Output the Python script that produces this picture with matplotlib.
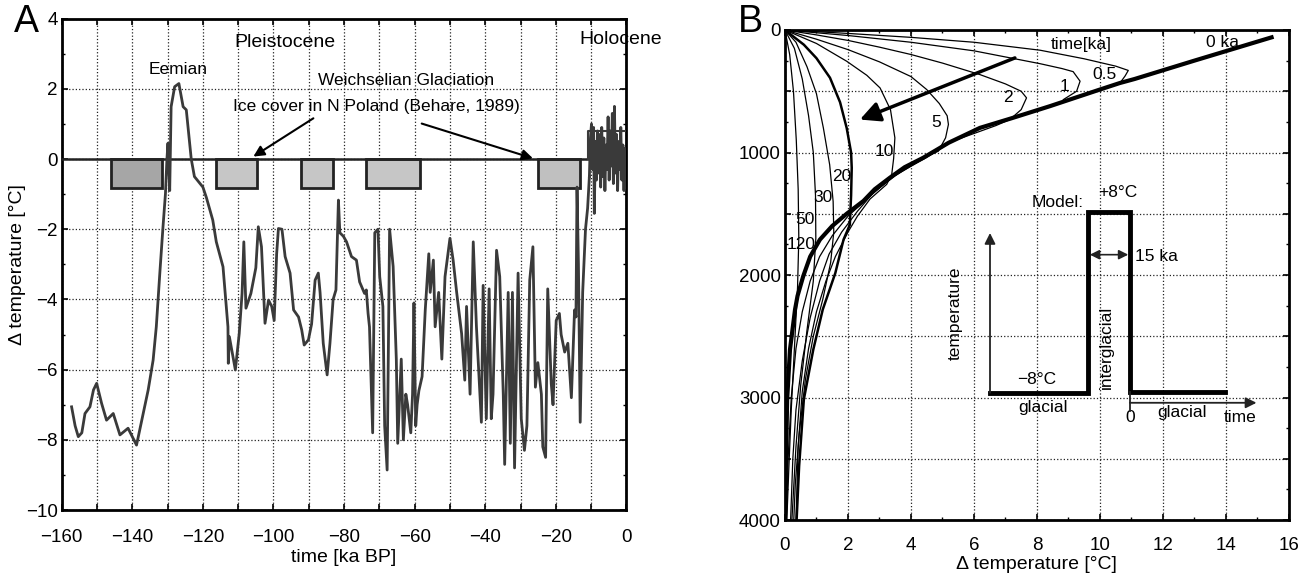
import numpy as np
import matplotlib
matplotlib.use("Agg")
import matplotlib.pyplot as plt
from matplotlib.ticker import MultipleLocator, FuncFormatter

plt.rcParams['font.family'] = ['Liberation Sans', 'DejaVu Sans']

# ---- panel A: temperature history (ka BP, deg C) ----
time_a = [-157.2, -156.2, -155.3, -154.3, -153.4, -152.0, -151.0, -150.1, -148.7, -147.3,
          -145.4, -143.5, -141.2, -138.8, -136.9, -135.5, -134.1, -133.2, -132.2, -131.3,
          -130.6, -130.2, -129.9, -129.4, -129.0, -128.0, -126.8, -125.6, -124.7, -123.3,
          -122.4, -120.0, -119.0, -117.2, -116.2, -114.3, -112.9, -112.8, -112.5, -110.8,
          -109.7, -108.9, -108.4, -107.8, -106.4, -105.0, -104.3, -103.4, -102.4, -101.4,
          -100.5, -99.8, -99.1, -98.6, -97.6, -96.7, -95.3, -94.3, -92.9, -92.0,
          -91.3, -90.1, -89.2, -88.2, -87.3, -86.8, -85.9, -84.8, -84.0, -83.1,
          -82.3, -81.6, -81.2, -80.2, -79.3, -77.9, -76.5, -75.6, -74.2, -73.7,
          -73.2, -72.8, -71.9, -71.3, -70.4, -69.9, -69.0, -68.5, -67.8, -67.1,
          -66.1, -65.2, -64.8, -63.8, -63.2, -62.5, -62.0, -61.1, -60.6, -60.2,
          -59.7, -59.3, -58.8, -57.9, -57.0, -56.0, -55.6, -54.7, -54.2, -53.2,
          -52.3, -51.4, -50.0, -49.1, -48.1, -46.7, -45.8, -45.3, -44.3, -43.4,
          -42.5, -41.1, -40.6, -39.7, -38.9, -38.3, -37.8, -36.8, -35.9, -34.9,
          -34.5, -33.5, -32.9, -32.3, -31.7, -30.7, -29.8, -28.9, -28.2, -27.4,
          -26.5, -25.8, -25.1, -24.1, -23.7, -22.9, -22.3, -21.3, -20.8, -19.9,
          -19.0, -18.5, -17.5, -16.6, -15.6, -14.7, -14.3, -14.0, -13.6, -13.1,
          -12.4, -11.6, -11.0, -10.5]
temp_a = [-7.06, -7.6, -7.91, -7.8, -7.25, -7.06, -6.58, -6.39, -6.96, -7.44,
          -7.25, -7.86, -7.67, -8.15, -7.25, -6.58, -5.73, -4.78, -3.25, -1.93,
          -0.98, -0.03, 0.45, -0.9, 1.49, 2.06, 2.15, 1.49, 1.4, 0.0,
          -0.5, -0.8, -1.1, -1.74, -2.36, -3.07, -4.78, -5.82, -5.06, -6.01,
          -4.97, -3.83, -2.36, -4.25, -3.83, -3.1, -1.93, -2.5, -4.68, -4.02,
          -4.2, -4.6, -2.7, -1.98, -2.0, -2.78, -3.25, -4.3, -4.5, -4.87,
          -5.3, -5.15, -4.7, -3.45, -3.25, -3.8, -5.25, -6.15, -5.25, -4.0,
          -3.73, -1.17, -2.1, -2.2, -2.36, -2.78, -2.88, -3.5, -3.83, -3.73,
          -4.4, -4.78, -7.8, -2.1, -2.0, -3.35, -4.2, -7.6, -8.86, -2.0,
          -3.06, -5.7, -8.1, -5.7, -8.0, -6.7, -7.0, -7.8, -6.7, -4.1,
          -7.6, -7.0, -6.6, -6.2, -4.3, -2.7, -3.8, -2.88, -4.78, -3.8,
          -5.7, -3.35, -2.26, -2.88, -3.8, -4.97, -6.3, -4.2, -6.7, -2.36,
          -4.78, -7.5, -3.6, -7.4, -3.7, -7.4, -6.7, -2.6, -3.35, -6.7,
          -8.7, -3.8, -8.1, -3.8, -8.8, -3.25, -7.4, -8.3, -7.6, -3.45,
          -2.5, -6.5, -5.8, -6.7, -8.2, -8.5, -3.7, -6.4, -7.0, -4.6,
          -4.4, -5.0, -5.5, -5.25, -6.8, -4.3, -4.5, -0.8, -3.0, -7.5,
          -3.8, -2.0, -1.4, -0.5]

# Holocene part
time_holo = [-10.5, -10.2, -9.9, -9.6, -9.3, -9.1, -8.8, -8.5, -8.2, -7.9, -7.6, -7.3,
             -7.0, -6.7, -6.4, -6.1, -5.8, -5.5, -5.2, -4.9, -4.6, -4.3, -4.0, -3.7,
             -3.4, -3.1, -2.8, -2.5, -2.2, -1.9, -1.6, -1.3, -1.0, -0.7, -0.4, -0.1]
temp_holo = [-0.5, 0.6, 1.0, -0.3, 0.9, -1.55, 0.5, -0.6, 0.8, -0.4, 0.7, -0.8,
             0.9, -0.5, 0.6, -0.9, 0.4, -0.3, 1.2, -0.6, 0.8, -0.2, 1.3, -0.7,
             1.5, -0.4, 0.7, -0.9, 0.5, -0.3, 0.9, -0.6, 0.4, -0.9, 0.3, -0.8]
holo_outline_t = [-10.8, -10.8, 0.0]
holo_outline_T = [0.0, 0.8, 0.8]

# ice cover periods in N Poland
ice_start = [-146.1, -116.4, -92.2, -73.9, -25.0]
ice_end = [-131.7, -104.8, -83.1, -58.5, -13.2]
ice_depth = -0.83
ice_colors = ['#a6a6a6', '#c6c6c6', '#c6c6c6', '#c6c6c6', '#c0c0c0']

# ---- panel B: temperature-depth profiles (deg C, m) ----
curve_labels = ['0 ka', '0.5', '1', '2', '5', '10', '20', '30', '50', '120']
prof_T = {
    '0 ka': [15.45, 13.0, 11.1, 10.63, 10.0, 8.41, 7.2, 6.19, 5.2, 4.39, 3.8, 3.33, 2.85, 2.49,
             1.96, 1.5, 1.11, 0.8, 0.58, 0.4, 0.32, 0.16, 0.07, 0.03, 0.0],
    '0.5': [0, 2, 4, 6, 8.1, 9.5, 10.5, 10.9, 10.8, 10.63],
    '1': [0, 2, 4, 6, 8.1, 8.8, 9.15, 9.37, 9.26, 8.84],
    '2': [0, 1, 2, 3, 4, 5, 6.19, 7.0, 7.5, 7.67, 7.5, 7.14, 6.7, 5.3, 4.5, 3.4, 2.6, 2.0,
          1.5, 1.1, 0.8, 0.55, 0.35, 0.2, 0.1, 0.05],
    '5': [0, 1, 2, 3, 4, 4.5, 4.9, 5.15, 5.19, 5.1, 4.87, 4.4, 3.5, 2.8, 2.3, 1.8, 1.4,
          1.1, 0.8, 0.55, 0.35, 0.25, 0.18],
    '10': [0, 1, 1.96, 2.6, 3.02, 3.35, 3.49, 3.45, 3.39, 3.23, 2.7, 2.3, 2.0, 1.6, 1.3,
           1.0, 0.75, 0.55, 0.42, 0.35],
    '20': [0, 0.6, 1.0, 1.43, 1.75, 1.96, 2.1, 2.12, 2.1, 2.06, 1.86, 1.6, 1.2, 0.9, 0.6,
           0.45, 0.37],
    '30': [0, 0.35, 0.7, 1.0, 1.22, 1.42, 1.53, 1.55, 1.45, 1.2, 0.9, 0.65, 0.45, 0.33, 0.28],
    '50': [0, 0.3, 0.55, 0.75, 0.9, 0.97, 0.98, 0.9, 0.7, 0.5, 0.35, 0.22],
    '120': [0, 0.15, 0.27, 0.36, 0.42, 0.44, 0.4, 0.3, 0.2, 0.12, 0.06],
}
prof_d = {
    '0 ka': [60, 250, 400, 433, 486, 622, 720, 799, 920, 1043, 1120, 1206, 1300, 1396,
             1500, 1600, 1711, 1850, 2010, 2170, 2282, 2608, 3015, 3559, 3966],
    '0.5': [0, 28, 60, 100, 165, 235, 295, 330, 375, 435],
    '1': [0, 45, 100, 170, 275, 315, 340, 418, 500, 568],
    '2': [0, 40, 85, 140, 200, 270, 364, 440, 500, 554, 650, 731, 780, 910, 1040, 1200,
          1380, 1520, 1680, 1850, 2050, 2300, 2600, 3000, 3500, 4000],
    '5': [0, 75, 160, 260, 380, 486, 600, 700, 771, 880, 989, 1045, 1190, 1330, 1480,
          1650, 1830, 2050, 2350, 2700, 3100, 3500, 4000],
    '10': [0, 110, 255, 370, 473, 650, 880, 1050, 1179, 1260, 1380, 1520, 1650, 1850,
           2050, 2300, 2600, 2950, 3400, 4000],
    '20': [0, 120, 230, 390, 590, 800, 1000, 1125, 1350, 1590, 1711, 1983, 2282, 2608,
           3015, 3559, 4000],
    '30': [0, 100, 300, 520, 800, 1100, 1400, 1650, 1900, 2200, 2500, 2850, 3300, 3700, 4000],
    '50': [0, 150, 400, 700, 1000, 1350, 1700, 2050, 2450, 2900, 3400, 4000],
    '120': [0, 200, 500, 900, 1300, 1700, 2100, 2600, 3100, 3600, 4000],
}
prof_lw = {'0 ka': 3.0, '20': 1.8}
label_pos = {'0 ka': (13.9, 106), '0.5': (10.16, 364), '1': (8.89, 459), '2': (7.09, 554),
             '5': (4.81, 758), '10': (3.17, 989), '20': (1.8, 1193), '30': (1.22, 1364),
             '50': (0.63, 1549), '120': (0.5, 1752)}

# model step (inset)
step_T = [6.51, 9.63, 9.63, 10.95, 10.95, 13.97]
step_d = [2961, 2961, 1489, 1489, 2956, 2956]

TICK = 13.5
TXT = 12.5
GRID = dict(color='#222222', linestyle=':', linewidth=0.9)

fig = plt.figure(figsize=(13.1, 5.78), dpi=100)

# ---------------- A ----------------
ax = fig.add_axes([0.0471, 0.1176, 0.4311, 0.8502])
ax.set_xlim(-160, 0)
ax.set_ylim(-10, 4)
ax.xaxis.set_major_locator(MultipleLocator(10))
ax.xaxis.set_major_formatter(FuncFormatter(
    lambda v, p: ('%d' % v).replace('-', '\u2212') if int(round(v)) % 20 == 0 else ''))
ax.yaxis.set_major_locator(MultipleLocator(2))
ax.yaxis.set_minor_locator(MultipleLocator(1))
ax.yaxis.set_major_formatter(FuncFormatter(lambda v, p: ('%d' % v).replace('-', '\u2212')))
ax.grid(True, which='major', **GRID)
ax.set_axisbelow(True)
ax.tick_params(which='both', direction='in', top=True, right=True, labelsize=TICK)
ax.tick_params(which='major', length=4, width=1.2)
ax.tick_params(which='minor', length=2.5, width=1)
ax.tick_params(axis='x', pad=14)
ax.tick_params(axis='y', pad=3)
for s in ax.spines.values():
    s.set_linewidth(2)

ax.bar(ice_start, ice_depth, width=np.array(ice_end) - np.array(ice_start), bottom=0,
       align='edge', color=ice_colors, edgecolor='#222222', linewidth=2, zorder=3)
ax.axhline(0, color='#222222', lw=1.8, zorder=4)
ax.plot(time_a, temp_a, color='#3a3a3a', lw=2, zorder=5)
ax.plot(time_holo, temp_holo, color='#3a3a3a', lw=2, zorder=5)
ax.plot(holo_outline_t, holo_outline_T, color='#3a3a3a', lw=1.5, zorder=5)

ax.text(-96.7, 3.33, 'Pleistocene', fontsize=14, ha='center', va='center')
ax.text(-1.7, 3.4, 'Holocene', fontsize=14, ha='center', va='center')
ax.text(-127, 2.54, 'Eemian', fontsize=TXT, ha='center', va='center')
ax.text(-62.4, 2.25, 'Weichselian Glaciation', fontsize=TXT, ha='center', va='center')
ax.text(-70.9, 1.51, 'Ice cover in N Poland (Behare, 1989)', fontsize=TXT,
        ha='center', va='center')
arrow_kw = dict(arrowstyle='-|>', color='black', lw=1.5, mutation_scale=16,
                shrinkA=0, shrinkB=0)
ax.annotate('', xy=(-105.7, 0.07), xytext=(-88.7, 1.16), arrowprops=arrow_kw, zorder=6)
ax.annotate('', xy=(-26.5, 0.02), xytext=(-58.0, 1.01), arrowprops=arrow_kw, zorder=6)

ax.set_xlabel('time [ka BP]', fontsize=14, labelpad=2)
ax.set_ylabel('\u0394 temperature [\u00b0C]', fontsize=14, labelpad=0)

# ---------------- B ----------------
bx = fig.add_axes([0.5992, 0.1003, 0.3847, 0.8478])
bx.set_xlim(0, 16)
bx.set_ylim(4000, 0)
bx.xaxis.set_major_locator(MultipleLocator(2))
bx.xaxis.set_minor_locator(MultipleLocator(1))
bx.yaxis.set_major_locator(MultipleLocator(500))
bx.yaxis.set_minor_locator(MultipleLocator(250))
bx.yaxis.set_major_formatter(FuncFormatter(
    lambda v, p: '%d' % v if int(round(v)) % 1000 == 0 else ''))
bx.grid(True, which='major', **GRID)
bx.set_axisbelow(True)
bx.tick_params(which='both', direction='in', top=True, right=True, labelsize=TICK)
bx.tick_params(which='major', length=4, width=1.2)
bx.tick_params(which='minor', length=2.5, width=1)
bx.tick_params(axis='x', pad=12)
bx.tick_params(axis='y', pad=3)
for s in bx.spines.values():
    s.set_linewidth(2)

for name in curve_labels:
    bx.plot(prof_T[name], prof_d[name], color='black', lw=prof_lw.get(name, 0.9), zorder=4)
    lx, ly = label_pos[name]
    bx.text(lx, ly, name, fontsize=TXT, ha='center', va='center', zorder=6)
bx.text(9.42, 120, 'time[ka]', fontsize=TXT, ha='center', va='center')
bx.annotate('', xy=(2.38, 731), xytext=(7.3, 228),
            arrowprops=dict(arrowstyle='-|>', color='black', lw=2.5, mutation_scale=30,
                            shrinkA=0, shrinkB=0), zorder=6)

# inset model
bx.plot(step_T, step_d, color='black', lw=3.5, solid_joinstyle='miter', zorder=5)
thin = dict(arrowstyle='-|>', color='#222222', lw=1.3, mutation_scale=16, shrinkA=0, shrinkB=0)
bx.annotate('', xy=(6.51, 1657), xytext=(6.51, 2961), arrowprops=thin, zorder=5)
bx.annotate('', xy=(14.97, 3043), xytext=(10.95, 3043), arrowprops=thin, zorder=5)
bx.plot([10.95, 10.95], [2956, 3110], color='#222222', lw=1.3, zorder=5)
bx.annotate('', xy=(9.68, 1834), xytext=(10.9, 1834),
            arrowprops=dict(arrowstyle='<|-|>', color='#222222', lw=1.2, mutation_scale=14,
                            shrinkA=0, shrinkB=0), zorder=5)
bx.text(11.1, 1850, '15 ka', fontsize=TXT, ha='left', va='center')
bx.text(10.58, 1328, '+8\u00b0C', fontsize=TXT, ha='center', va='center')
bx.text(8.67, 1410, 'Model:', fontsize=TXT, ha='center', va='center')
bx.text(7.99, 2852, '\u22128\u00b0C', fontsize=TXT, ha='center', va='center')
bx.text(8.2, 3083, 'glacial', fontsize=TXT, ha='center', va='center')
bx.text(10.21, 2594, 'interglacial', fontsize=TXT, ha='center', va='center', rotation=90)
bx.text(10.97, 3165, '0', fontsize=TXT, ha='center', va='center')
bx.text(12.59, 3124, 'glacial', fontsize=TXT, ha='center', va='center')
bx.text(14.44, 3165, 'time', fontsize=TXT, ha='center', va='center')
bx.text(5.4, 2309, 'temperature', fontsize=TXT, ha='center', va='center', rotation=90)

bx.set_xlabel('\u0394 temperature [\u00b0C]', fontsize=14, labelpad=2)

fig.text(0.0198, 0.962, 'A', fontsize=27, ha='center', va='center')
fig.text(0.5725, 0.962, 'B', fontsize=27, ha='center', va='center')

fig.savefig('out.png', dpi=100)
